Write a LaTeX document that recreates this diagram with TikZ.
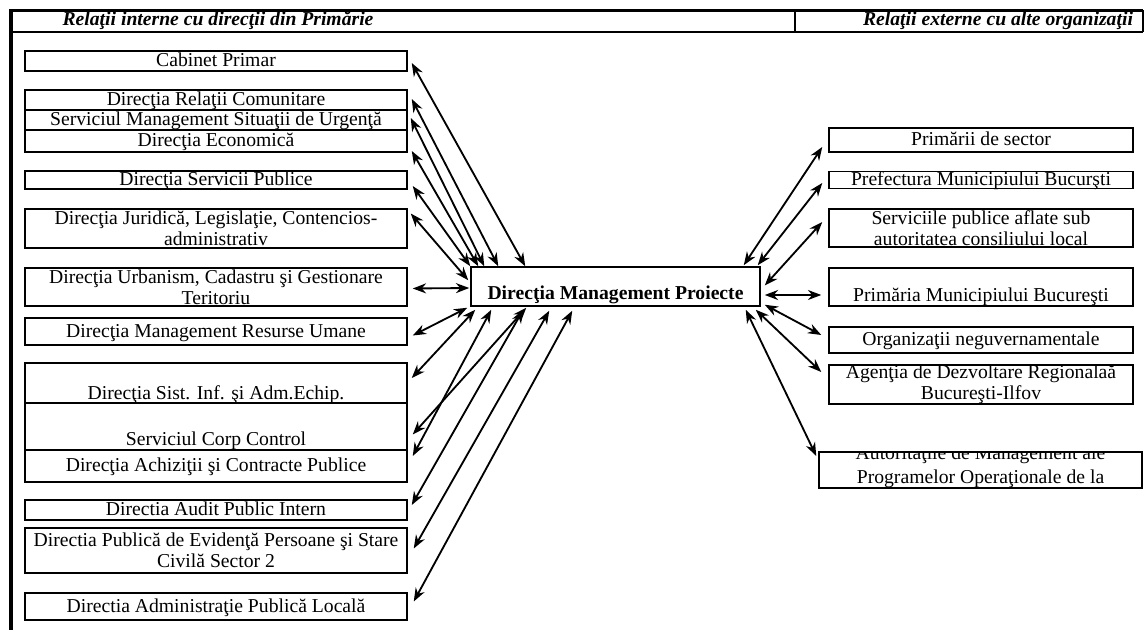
\documentclass[tikz,border=0pt]{standalone}
\usepackage{fontspec}
\setmainfont{Liberation Serif}
\usepackage{tikz}
\usetikzlibrary{arrows.meta, calc}
\newcommand{\boxfont}{\fontsize{11.8}{12.5}\selectfont}
\tikzstyle{intbox} = [rectangle, draw=black, line width=0.9pt, minimum width=229.2pt, inner xsep=2pt, inner ysep=0pt, text centered]
\tikzstyle{extbox} = [rectangle, draw=black, line width=0.9pt, minimum width=182.4pt, inner xsep=2pt, inner ysep=0pt, text centered]
\tikzstyle{centerbox} = [rectangle, draw=black, line width=0.9pt, minimum width=173.4pt, minimum height=23.4pt, inner ysep=0pt, text centered, font=\boxfont\bfseries]
\tikzstyle{oneline} = [text height=8.5pt, text depth=1.5pt]
\tikzstyle{twoline} = [align=center]
\tikzstyle{header} = [font=\boxfont\bfseries\itshape]
\tikzstyle{arrow} = [line width=1.1pt, <->, >={Stealth[length=8pt,width=6pt]}]

\begin{document}
\begin{tikzpicture}[x=0.6pt, y=-0.6pt, font=\boxfont]
\useasboundingbox (0,0) rectangle (1144,630);

% Frame / header
\draw [line width=1.6pt] (11,10.5) -- (1143,10.5);
\draw [line width=1.6pt] (11,32) -- (1143,32);
\draw [line width=1.2pt] (1143,10.5) -- (1143,32);
\draw [line width=1pt] (795,10.5) -- (795,32);
\draw [line width=2pt] (11,9.5) -- (11,630);
\node (hdrint) [header] at (218,21) {Relaţii interne cu direcţii din Primărie};
\node (hdrext) [header] at (998,21) {Relaţii externe cu alte organizaţii};

% Nodes / blocks
\node (dmp) [centerbox, text height=16.5pt, text depth=1.5pt] at (615.5,286.5) {Direcţia Management Proiecte};

\node (cab) [intbox, oneline, minimum height=12pt] at (216,61) {Cabinet Primar};
\node (relcom) [intbox, oneline, minimum height=12pt] at (216,100) {Direcţia Relaţii Comunitare};
\node (urg) [intbox, oneline, minimum height=12pt] at (216,120) {Serviciul Management Situaţii de Urgenţă};
\node (econ) [intbox, oneline, minimum height=13.2pt] at (216,141) {Direcţia Economică};
\node (serv) [intbox, oneline, minimum height=10.8pt] at (216,180) {Direcţia Servicii Publice};
\node (jur) [intbox, twoline, minimum height=23.4pt] at (216,228.5) {Direcţia Juridică, Legislaţie, Contencios-\\administrativ};
\node (urb) [intbox, twoline, minimum height=22.8pt] at (216,287) {Direcţia Urbanism, Cadastru şi Gestionare\\Teritoriu};
\node (mru) [intbox, oneline, minimum height=16.2pt] at (216,331.5) {Direcţia Management Resurse Umane};
\node (sist) [intbox, text height=21.5pt, text depth=1.5pt, minimum height=24pt] at (216,383) {Direcţia Sist. Inf. şi Adm.Echip.};
\node (corp) [intbox, text height=24pt, text depth=1.5pt, minimum height=28.2pt] at (216,426.5) {Serviciul Corp Control};
\node (achiz) [intbox, oneline, minimum height=19.2pt] at (216,466) {Direcţia Achiziţii şi Contracte Publice};
\node (audit) [intbox, oneline, minimum height=12pt] at (216,510) {Directia Audit Public Intern};
\node (evid) [intbox, twoline, minimum height=27pt] at (216,550.5) {Directia Publică de Evidenţă Persoane şi Stare\\Civilă Sector 2};
\node (admin) [intbox, oneline, minimum height=16.2pt] at (216,606.5) {Directia Administraţie Publică Locală};

\node (prim) [extbox, oneline, minimum height=14.4pt] at (981,140) {Primării de sector};
\node (pref) [extbox, oneline, minimum height=9.6pt] at (981,180) {Prefectura Municipiului Bucurşti};
\node (servpub) [extbox, twoline, minimum height=22.8pt] at (981,228) {Serviciile publice aflate sub\\autoritatea consiliului local};
\node (primb) [extbox, text height=19pt, text depth=1.5pt, minimum height=22.8pt] at (981,287) {Primăria Municipiului Bucureşti};
\node (org) [extbox, oneline, minimum height=15.6pt] at (981,340) {Organizaţii neguvernamentale};
\node (agentia) [extbox, twoline, minimum height=22.2pt] at (981,384.5) {Agenţia de Dezvoltare Regionalaă\\Bucureşti-Ilfov};
\node (autm) [extbox, text height=18pt, text depth=1.5pt, minimum height=21.6pt, minimum width=193.8pt] at (980.5,470) {Programelor Operaţionale de la};
\begin{scope}
\clip (autm.north west) rectangle (autm.south east);
\node (autmtop) [anchor=base] at ($(autm.north)+(0,8)$) {Autorităţile de Management ale};
\end{scope}

% Arrows
\draw [arrow] ($(cab.east)+(4,2)$) -- ($(dmp.north west)+(55,0)$);
\draw [arrow] ($(relcom.east)+(4,-1)$) -- ($(dmp.north west)+(28,0)$);
\draw [arrow] ($(urg.east)+(3,-2)$) -- ($(dmp.north west)+(14,0)$);
\draw [arrow] ($(econ.east)+(4,10)$) -- ($(dmp.north west)+(8,0)$);
\draw [arrow] ($(serv.east)+(5,6)$) -- (dmp.north west);
\draw [arrow] ($(jur.east)+(3,-15)$) -- ($(dmp.north west)+(-2,14)$);
\draw [arrow] ($(urb.east)+(5,1.5)$) -- ($(dmp.west)+(-1,1.5)$);
\draw [arrow] ($(mru.east)+(5,4)$) -- ($(dmp.south west)+(-3,1)$);
\draw [arrow] ($(sist.east)+(4,-5)$) -- ($(dmp.south west)+(5,3)$);
\draw [arrow] ($(corp.east)+(5,8)$) -- ($(dmp.south west)+(56,1)$);
\draw [arrow] ($(achiz.east)+(5,-10)$) -- ($(dmp.south west)+(21,3)$);
\draw [arrow] ($(audit.east)+(4,-5)$) -- ($(dmp.south west)+(53,3)$);
\draw [arrow] ($(evid.east)+(6,-2)$) -- ($(dmp.south west)+(79,4)$);
\draw [arrow] ($(admin.east)+(6,-5)$) -- ($(dmp.south west)+(102,4)$);

\draw [arrow] ($(dmp.north east)+(-17,-1)$) -- ($(prim.west)+(-6,7)$);
\draw [arrow] ($(dmp.north east)+(-3,-1)$) -- ($(pref.west)+(-6,3)$);
\draw [arrow] ($(dmp.east)+(4,-1)$) -- ($(servpub.west)+(-6,-6)$);
\draw [arrow] ($(dmp.east)+(4,8.5)$) -- ($(primb.west)+(-7,8)$);
\draw [arrow] ($(dmp.south east)+(4,-2)$) -- ($(org.west)+(-7,-5)$);
\draw [arrow] ($(dmp.south east)+(-5,3)$) -- ($(agentia.west)+(-7,-12.5)$);
\draw [arrow] ($(dmp.south east)+(-15,3)$) -- ($(autm.west)+(-2,-14)$);

\end{tikzpicture}
\end{document}
